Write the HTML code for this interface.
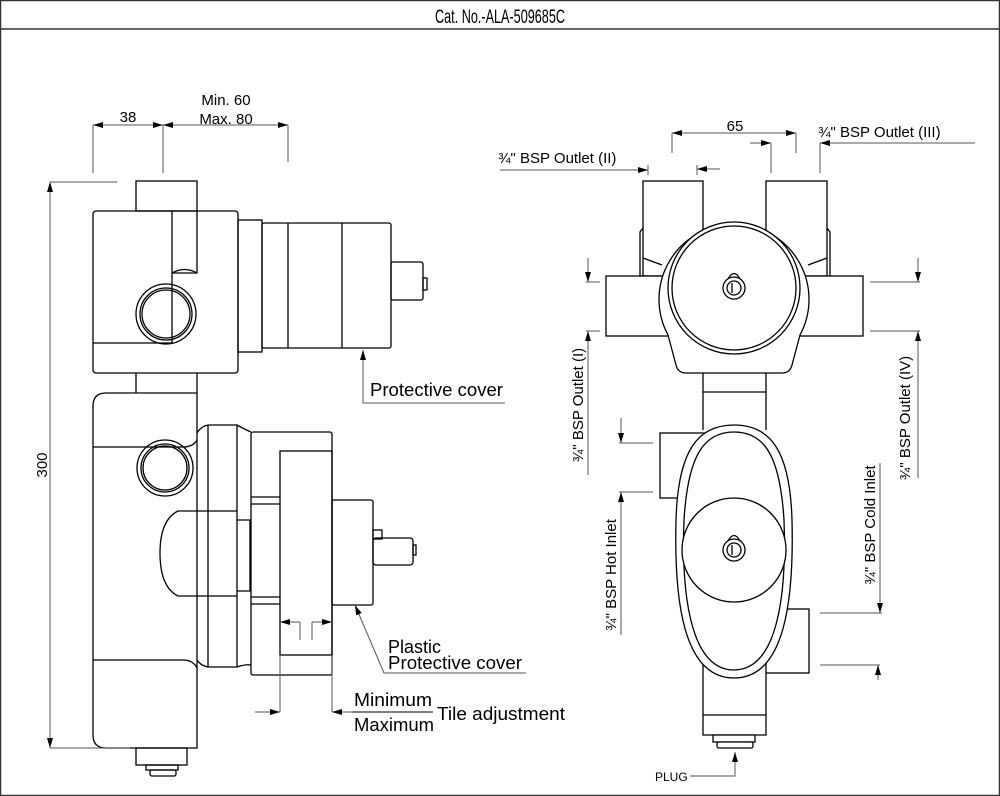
<!DOCTYPE html>
<html><head><meta charset="utf-8"><style>
html,body{margin:0;padding:0;background:#fff}
svg{display:block}
text{font-family:"Liberation Sans","DejaVu Sans",sans-serif;fill:#000}
</style></head><body>
<svg width="1000" height="796" viewBox="0 0 1000 796" xmlns="http://www.w3.org/2000/svg">
<defs>
<marker id="a" viewBox="0 0 10 6" refX="10" refY="3" markerWidth="10" markerHeight="6" orient="auto-start-reverse" markerUnits="userSpaceOnUse"><path d="M0,0 L10,3 L0,6 z" fill="#000"/></marker>
</defs>
<rect x="0.5" y="0.5" width="999" height="795" fill="none" stroke="#333" stroke-width="1.5"/>
<line x1="0" y1="29" x2="1000" y2="29" stroke="#333" stroke-width="1.5"/>
<text x="500" y="23" font-size="19" text-anchor="middle" textLength="130" lengthAdjust="spacingAndGlyphs">Cat. No.-ALA-509685C</text>

<!-- LEFT VIEW -->
<g fill="none" stroke="#000" stroke-width="1.3">
<rect x="136" y="181" width="61" height="30"/>
<rect x="93" y="211" width="145" height="162" rx="3"/>
<path d="M93,343 H172 V211 M172,273 H197 V211"/>
<path d="M172,273 Q185,266 197,273"/>
<circle cx="166" cy="314" r="30"/>
<circle cx="166" cy="314" r="26"/>
<circle cx="166" cy="314" r="24"/>
<rect x="238" y="220" width="24" height="132"/>
<rect x="262" y="223" width="129" height="125" rx="2"/>
<line x1="288" y1="223" x2="288" y2="348"/>
<line x1="342" y1="223" x2="342" y2="348"/>
<rect x="391" y="262" width="32" height="38" rx="2"/>
<rect x="423" y="278" width="4" height="12"/>
<line x1="136" y1="373" x2="136" y2="393"/><line x1="197" y1="373" x2="197" y2="393"/>
<path d="M106,393 H197 V748 H106 Q93,748 93,735 V406 Q93,393 106,393 z"/>
<path d="M93,447 H183 Q193,447 197,440"/>
<path d="M93,660 H183 Q193,660 197,668"/>
<circle cx="165" cy="468" r="28"/><circle cx="165" cy="468" r="24"/><circle cx="165" cy="468" r="22"/>
<path d="M197,433 Q202,425 210,425 H237 Q246,430 251,432 M197,660 Q202,667 210,667 H237 Q246,664 251,665"/>
<line x1="208" y1="425" x2="208" y2="667"/>
<line x1="237" y1="425" x2="237" y2="667"/>
<rect x="251" y="432" width="81" height="243" rx="2"/>
<rect x="280" y="451" width="52" height="204"/>
<path d="M251,497 H280 M251,504 H280 M251,597 H280 M251,604 H280"/>
<path d="M237,520 H250 V591 H237"/>
<path d="M237,511 H178 Q160,520 160,553 Q160,587 178,596 H237"/>
<rect x="332" y="500" width="41" height="105" rx="2"/>
<rect x="373" y="530" width="9" height="9"/>
<rect x="373" y="538" width="40" height="27" rx="3"/>
<rect x="413" y="545" width="3" height="10"/>
<rect x="136" y="748" width="51" height="17"/>
<rect x="146" y="765" width="32" height="5"/>
<rect x="150" y="770" width="26" height="6" rx="2"/>
</g>
<!-- left dims -->
<g stroke="#555" stroke-width="1" fill="none">
<line x1="93" y1="125" x2="93" y2="173"/><line x1="163" y1="125" x2="163" y2="173"/><line x1="288" y1="125" x2="288" y2="162"/>
<line x1="93" y1="125" x2="163" y2="125" marker-start="url(#a)" marker-end="url(#a)"/>
<line x1="163" y1="125" x2="288" y2="125" marker-start="url(#a)" marker-end="url(#a)"/>
<line x1="50" y1="182" x2="117" y2="182"/><line x1="50" y1="748" x2="130" y2="748"/>
<line x1="50" y1="182" x2="50" y2="748" marker-start="url(#a)" marker-end="url(#a)"/>
<path d="M363,350 V403 H505" marker-start="url(#a)"/>
<path d="M355,605 L384,673 H526" marker-start="url(#a)"/>
<line x1="280" y1="655" x2="280" y2="712"/><line x1="332" y1="655" x2="332" y2="712"/>
<line x1="255" y1="712" x2="280" y2="712" marker-end="url(#a)"/>
<line x1="352" y1="712" x2="332" y2="712" marker-end="url(#a)"/>
<line x1="300" y1="622" x2="280" y2="622" marker-end="url(#a)"/>
<line x1="312" y1="622" x2="332" y2="622" marker-end="url(#a)"/>
<path d="M300,622 V640 M312,622 V640"/>
<line x1="352" y1="712" x2="433" y2="712" stroke="#000"/>
</g>
<text x="128" y="122" font-size="15" text-anchor="middle">38</text>
<text x="226" y="105" font-size="15" text-anchor="middle">Min. 60</text>
<text x="226" y="124" font-size="15" text-anchor="middle">Max. 80</text>
<text x="0" y="0" font-size="15" text-anchor="middle" transform="translate(47,465) rotate(-90)">300</text>
<text x="370" y="396" font-size="18" textLength="133" lengthAdjust="spacingAndGlyphs">Protective cover</text>
<text x="388" y="653" font-size="18">Plastic</text>
<text x="388" y="669" font-size="18" textLength="134" lengthAdjust="spacingAndGlyphs">Protective cover</text>
<text x="354" y="706" font-size="18" textLength="78" lengthAdjust="spacingAndGlyphs">Minimum</text>
<text x="354" y="731" font-size="18" textLength="80" lengthAdjust="spacingAndGlyphs">Maximum</text>
<text x="437" y="720" font-size="18" textLength="128" lengthAdjust="spacingAndGlyphs">Tile adjustment</text>

<!-- RIGHT VIEW -->
<g fill="#fff" stroke="#000" stroke-width="1.3">
<rect x="643" y="181" width="60" height="95"/>
<rect x="766" y="181" width="61" height="95"/>
<path d="M643,228 L640,232 V276 M827,228 L830,232 V276" fill="none"/>
<path d="M643,258 L662,265 M827,258 L808,265" fill="none"/>
<rect x="606" y="276" width="257" height="60"/>
<path d="M703,373 V430 M766,373 V430 M703,392 H766" fill="none"/>
<path d="M686,373 H782 Q790,373 792,365 L800,335 A75,75 0 1 0 668,335 L676,365 Q678,373 686,373 z"/>
<circle cx="734" cy="288" r="66"/><circle cx="734" cy="288" r="62"/>
<path d="M728,279 Q734,268 740,279" />
<circle cx="734" cy="288" r="11"/><circle cx="734" cy="288" r="7"/>
<line x1="732" y1="283" x2="732" y2="293"/>
<rect x="660" y="433" width="50" height="65"/>
<rect x="758" y="609" width="51" height="64"/>
<path d="M703,660 V735 H766 V660 M703,715 H766" />
<path d="M734,425 C770,425 790,450 792,520 C794,600 785,678 734,678 C683,678 674,600 676,520 C678,450 698,425 734,425 z"/>
<path d="M734,432 C764,432 780,455 784,520 C787,600 776,670 734,670 C692,670 681,600 684,520 C688,455 704,432 734,432 z" fill="none"/>
<circle cx="734" cy="550" r="52"/>
<path d="M728,541 Q734,530 740,541"/>
<circle cx="734" cy="550" r="11"/><circle cx="734" cy="550" r="7"/>
<line x1="732" y1="545" x2="732" y2="555"/>
<rect x="713" y="735" width="42" height="7"/>
<rect x="717" y="742" width="36" height="6" rx="2"/>
</g>
<g stroke="#555" stroke-width="1" fill="none">
<line x1="672" y1="133" x2="796" y2="133" marker-start="url(#a)" marker-end="url(#a)"/>
<line x1="672" y1="133" x2="672" y2="153"/><line x1="796" y1="133" x2="796" y2="153"/>
<line x1="500" y1="170" x2="648" y2="170" marker-end="url(#a)"/>
<line x1="648" y1="165" x2="648" y2="175"/>
<line x1="720" y1="169" x2="697" y2="169" marker-end="url(#a)"/>
<line x1="697" y1="165" x2="697" y2="175"/>
<line x1="750" y1="143" x2="771" y2="143" marker-end="url(#a)"/>
<line x1="771" y1="143" x2="771" y2="173"/>
<line x1="975" y1="143" x2="820" y2="143" marker-end="url(#a)"/>
<line x1="820" y1="143" x2="820" y2="173"/>
<line x1="588" y1="258" x2="588" y2="282" marker-end="url(#a)"/>
<line x1="586" y1="282" x2="600" y2="282"/><line x1="586" y1="331" x2="600" y2="331"/>
<line x1="588" y1="475" x2="588" y2="331" marker-end="url(#a)"/>
<line x1="621" y1="418" x2="621" y2="443" marker-end="url(#a)"/>
<line x1="619" y1="443" x2="653" y2="443"/><line x1="619" y1="492" x2="653" y2="492"/>
<line x1="621" y1="635" x2="621" y2="492" marker-end="url(#a)"/>
<line x1="918" y1="258" x2="918" y2="282" marker-end="url(#a)"/>
<line x1="870" y1="282" x2="920" y2="282"/><line x1="870" y1="331" x2="920" y2="331"/>
<line x1="918" y1="478" x2="918" y2="331" marker-end="url(#a)"/>
<line x1="880" y1="463" x2="880" y2="613" marker-end="url(#a)"/>
<line x1="820" y1="613" x2="882" y2="613"/><line x1="820" y1="665" x2="880" y2="665"/>
<line x1="878" y1="680" x2="878" y2="665" marker-end="url(#a)"/>
<path d="M690,776 H735 V752" marker-end="url(#a)"/>
</g>
<text x="735" y="131" font-size="15" text-anchor="middle">65</text>
<text x="498" y="163" font-size="15">¾" BSP Outlet (II)</text>
<text x="818" y="137" font-size="15">¾" BSP Outlet (III)</text>
<text font-size="15" text-anchor="middle" transform="translate(583,405) rotate(-90)">¾" BSP Outlet (I)</text>
<text font-size="15" text-anchor="middle" transform="translate(616,575) rotate(-90)">¾" BSP Hot Inlet</text>
<text font-size="15" text-anchor="middle" transform="translate(910,418) rotate(-90)">¾" BSP Outlet (IV)</text>
<text font-size="15" text-anchor="middle" transform="translate(875,525) rotate(-90)">¾" BSP Cold Inlet</text>
<text x="655" y="781" font-size="12">PLUG</text>
</svg>
</body></html>
